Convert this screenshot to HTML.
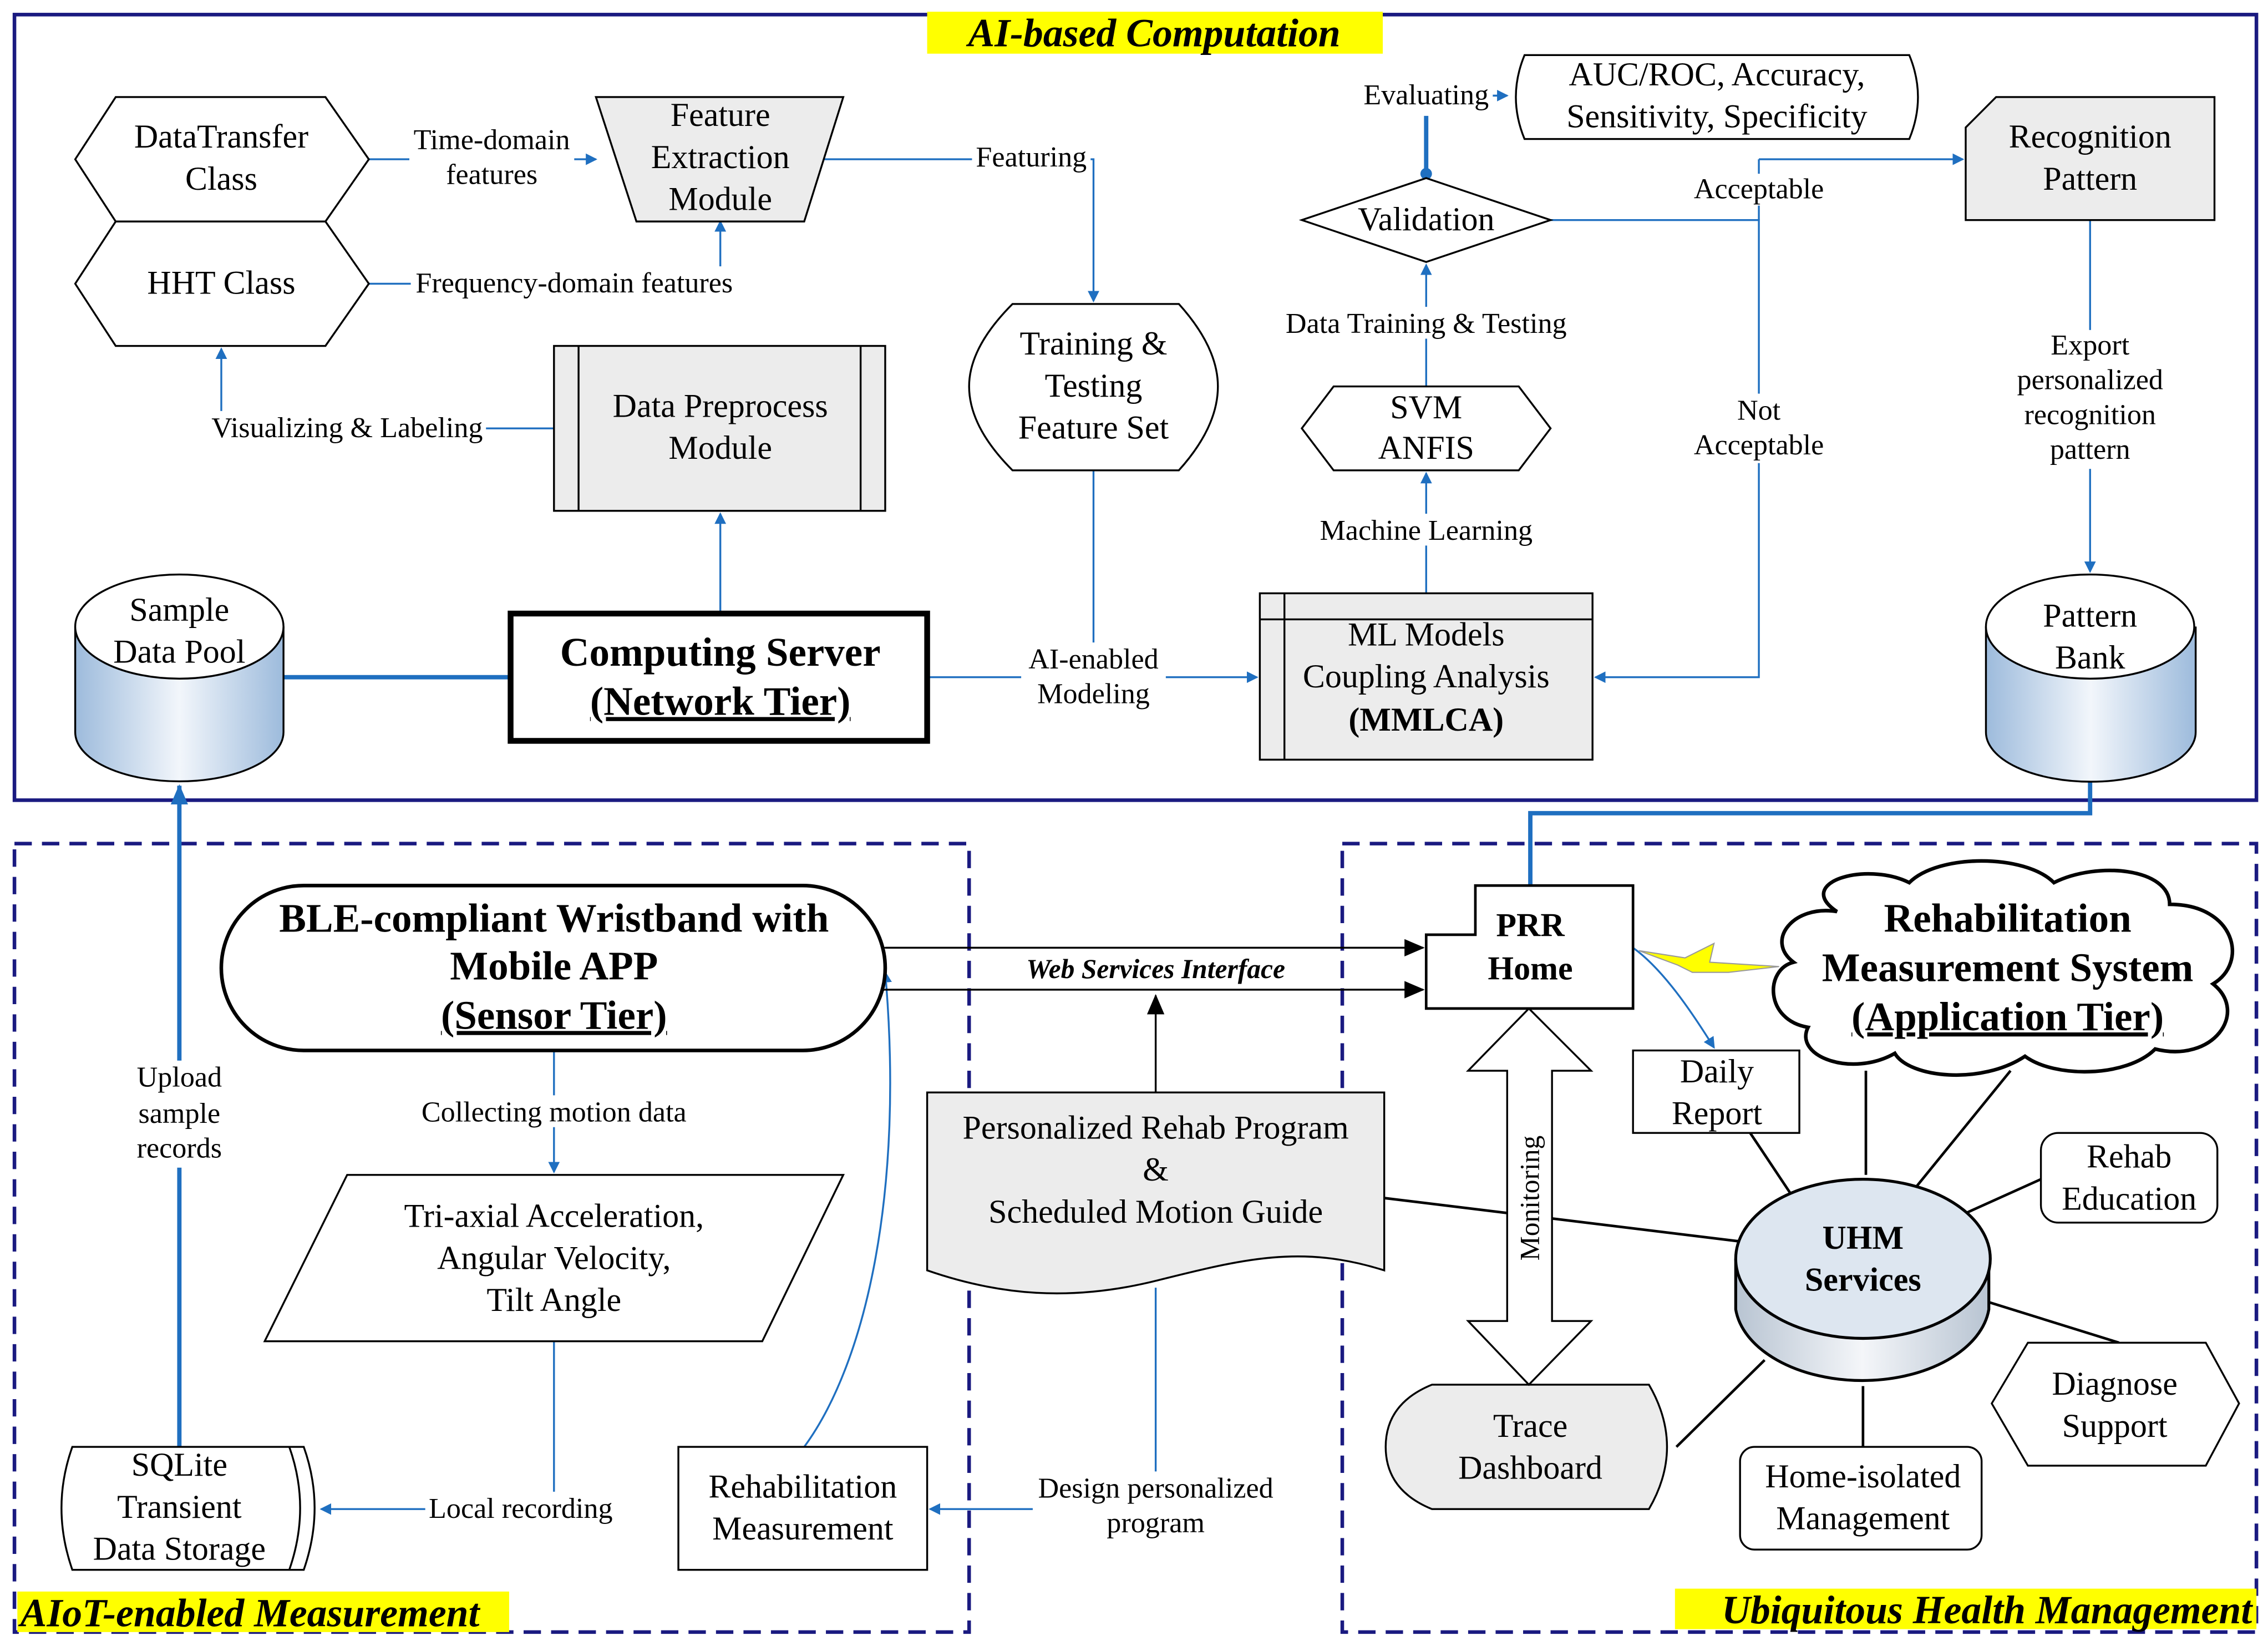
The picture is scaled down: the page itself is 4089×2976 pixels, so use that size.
<!DOCTYPE html>
<html><head><meta charset="utf-8"><style>html,body{margin:0;padding:0;background:#fff}svg{display:block}</style></head><body>
<svg xmlns="http://www.w3.org/2000/svg" width="4089" height="2976" viewBox="0 0 1568 1141" font-family="Liberation Serif, serif">
<defs>
<marker id="a" markerWidth="8" markerHeight="8" refX="7" refY="4" orient="auto" markerUnits="userSpaceOnUse"><path d="M0,0 L8,4 L0,8 Z" fill="#1f6fc0"/></marker>
<marker id="k" markerWidth="14" markerHeight="12" refX="13" refY="6" orient="auto" markerUnits="userSpaceOnUse"><path d="M0,0 L14,6 L0,12 Z" fill="#000"/></marker>
<marker id="kb" markerWidth="14" markerHeight="12" refX="13" refY="6" orient="auto" markerUnits="userSpaceOnUse"><path d="M0,0 L14,6 L0,12 Z" fill="#1f6fc0"/></marker>
<linearGradient id="cyl" x1="0" x2="1"><stop offset="0" stop-color="#9dbbdc"/><stop offset="0.5" stop-color="#f2f6fb"/><stop offset="1" stop-color="#9dbbdc"/></linearGradient>
<linearGradient id="cyl2" x1="0" x2="1"><stop offset="0" stop-color="#b8c4d2"/><stop offset="0.5" stop-color="#f4f6f9"/><stop offset="1" stop-color="#b8c4d2"/></linearGradient>
</defs>
<g font-size="23" text-anchor="middle" fill="#000">
<!-- frames -->
<rect x="10" y="10" width="1550" height="543" fill="none" stroke="#1a1a80" stroke-width="2.5"/>
<rect x="10" y="583" width="660" height="545" fill="none" stroke="#1a1a80" stroke-width="2.5" stroke-dasharray="12,7"/>
<rect x="928" y="583" width="632" height="545" fill="none" stroke="#1a1a80" stroke-width="2.5" stroke-dasharray="12,7"/>
<rect x="641" y="8" width="315" height="29" fill="#ffff00"/>
<text x="798" y="32" font-size="27.5" font-weight="bold" font-style="italic">AI-based Computation</text>
<rect x="12" y="1100" width="340" height="28" fill="#ffff00"/>
<text x="14" y="1124" font-size="27.5" font-weight="bold" font-style="italic" text-anchor="start">AIoT-enabled Measurement</text>
<rect x="1158" y="1098" width="402" height="28" fill="#ffff00"/>
<text x="1557" y="1122" font-size="27.5" font-weight="bold" font-style="italic" text-anchor="end">Ubiquitous Health Management</text>

<!-- blue connectors -->
<g stroke="#1f6fc0" stroke-width="1.3" fill="none">
<path d="M255,110 H412" marker-end="url(#a)"/>
<path d="M255,196 H498 V153" marker-end="url(#a)"/>
<path d="M570,110 H756 V208" marker-end="url(#a)"/>
<path d="M383,296 H153 V241" marker-end="url(#a)"/>
<path d="M498,424 V355" marker-end="url(#a)"/>
<path d="M641,468 H869" marker-end="url(#a)"/>
<path d="M756,325 V468"/>
<path d="M986,410 V327" marker-end="url(#a)"/>
<path d="M986,267 V183" marker-end="url(#a)"/>
<path d="M1072,152 H1216 V468 H1103" marker-end="url(#a)"/>
<path d="M1216,110 H1357" marker-end="url(#a)"/>
<path d="M1216,152 V110"/>
<path d="M1445,152 V395" marker-end="url(#a)"/>
<path d="M383,726 V810" marker-end="url(#a)"/>
<path d="M383,927 V1043 H222" marker-end="url(#a)"/>
<path d="M799,890 V1043 H643" marker-end="url(#a)"/>
<path d="M556,1000 C600,940 625,820 612,672" marker-end="url(#a)"/>
<path d="M1129,655 C1150,670 1170,700 1185,724" marker-end="url(#a)"/>
<path d="M1032,66 H1042" marker-end="url(#a)"/>
</g>
<g stroke="#1f6fc0" stroke-width="3" fill="none">
<path d="M196,468 H353"/>
<path d="M124,1000 V543" marker-end="url(#kb)"/>
<path d="M1445,470 V562 H1058 V612"/>
<path d="M986,123 V80"/>
</g>
<circle cx="986" cy="120" r="4" fill="#1f6fc0"/>
<!-- label backgrounds -->
<g fill="#fff">
<rect x="283" y="85" width="114" height="48"/><rect x="284" y="184" width="226" height="22"/>
<rect x="672" y="98" width="82" height="22"/><rect x="142" y="284" width="194" height="22"/>
<rect x="706" y="444" width="100" height="48"/><rect x="884" y="212" width="204" height="22"/>
<rect x="908" y="355" width="156" height="22"/><rect x="1168" y="120" width="96" height="22"/>
<rect x="1168" y="272" width="96" height="48"/><rect x="1395" y="228" width="100" height="96"/>
<rect x="940" y="55" width="92" height="22"/>
<rect x="286" y="757" width="194" height="22"/><rect x="86" y="733" width="76" height="74"/>
<rect x="294" y="1031" width="132" height="22"/><rect x="714" y="1017" width="170" height="48"/>
</g>
<g font-size="20">
<text x="340" y="103">Time-domain</text><text x="340" y="127">features</text>
<text x="397" y="202">Frequency-domain features</text>
<text x="713" y="115">Featuring</text>
<text x="240" y="302">Visualizing &amp; Labeling</text>
<text x="756" y="462">AI-enabled</text><text x="756" y="486">Modeling</text>
<text x="986" y="230">Data Training &amp; Testing</text>
<text x="986" y="373">Machine Learning</text>
<text x="1216" y="137">Acceptable</text>
<text x="1216" y="290">Not</text><text x="1216" y="314">Acceptable</text>
<text x="1445" y="245">Export</text><text x="1445" y="269">personalized</text><text x="1445" y="293">recognition</text><text x="1445" y="317">pattern</text>
<text x="986" y="72">Evaluating</text>
<text x="383" y="775">Collecting motion data</text>
<text x="124" y="751">Upload</text><text x="124" y="776">sample</text><text x="124" y="800">records</text>
<text x="360" y="1049">Local recording</text>
<text x="799" y="1035">Design personalized</text><text x="799" y="1059">program</text>
</g>

<!-- shapes top -->
<g stroke="#000" stroke-width="1.3">
<polygon points="52,110 80,67 225,67 255,110 225,153 80,153" fill="#fff"/>
<polygon points="52,196 80,153 225,153 255,196 225,239 80,239" fill="#fff"/>
<polygon points="412,67 583,67 556,153 440,153" fill="#ececec"/>
<rect x="383" y="239" width="229" height="114" fill="#ececec"/>
<line x1="400" y1="239" x2="400" y2="353"/><line x1="595" y1="239" x2="595" y2="353"/>
<path d="M700,210 H815 Q842,240 842,267 Q842,295 815,325 H700 Q670,295 670,267 Q670,240 700,210 Z" fill="#fff"/>
<polygon points="900,152 986,123 1072,152 986,181" fill="#fff"/>
<path d="M1054,38 H1320 Q1332,67 1320,96 H1054 Q1042,67 1054,38 Z" fill="#fff"/>
<path d="M1380,67 H1531 V152 H1359 V88 Z" fill="#ececec"/>
<polygon points="900,296 922,267 1050,267 1072,296 1050,325 922,325" fill="#fff"/>
<rect x="871" y="410" width="230" height="115" fill="#ececec"/>
<line x1="888" y1="410" x2="888" y2="525"/><line x1="871" y1="428" x2="1101" y2="428"/>
<rect x="353" y="424" width="288" height="88" fill="#fff" stroke-width="4"/>
<path d="M52,433 V506 A72,34 0 0 0 196,506 V433" fill="url(#cyl)"/>
<ellipse cx="124" cy="433" rx="72" ry="36" fill="#fff"/>
<path d="M1373,433 V506 A72,34 0 0 0 1518,506 V433" fill="url(#cyl)"/>
<ellipse cx="1445" cy="433" rx="72" ry="36" fill="#fff"/>
</g>
<text x="153" y="102">DataTransfer</text><text x="153" y="131">Class</text>
<text x="153" y="203">HHT Class</text>
<text x="498" y="87">Feature</text><text x="498" y="116">Extraction</text><text x="498" y="145">Module</text>
<text x="498" y="288">Data Preprocess</text><text x="498" y="317">Module</text>
<text x="756" y="245">Training &amp;</text><text x="756" y="274">Testing</text><text x="756" y="303">Feature Set</text>
<text x="986" y="159">Validation</text>
<text x="1187" y="59">AUC/ROC, Accuracy,</text><text x="1187" y="88">Sensitivity, Specificity</text>
<text x="1445" y="102">Recognition</text><text x="1445" y="131">Pattern</text>
<text x="986" y="289">SVM</text><text x="986" y="317">ANFIS</text>
<text x="986" y="446">ML Models</text><text x="986" y="475">Coupling Analysis</text><text x="986" y="505" font-weight="bold">(MMLCA)</text>
<text x="498" y="460" font-size="28" font-weight="bold">Computing Server</text>
<text x="498" y="494" font-size="28" font-weight="bold" text-decoration="underline">(Network Tier)</text>
<text x="124" y="429">Sample</text><text x="124" y="458">Data Pool</text>
<text x="1445" y="433">Pattern</text><text x="1445" y="462">Bank</text>

<!-- bottom black lines -->
<g stroke="#000" stroke-width="1.8" fill="none">
<line x1="957" y1="828" x2="1203" y2="858"/>
<line x1="1210" y1="783" x2="1240" y2="828"/>
<line x1="1290" y1="740" x2="1290" y2="812"/>
<line x1="1390" y1="740" x2="1325" y2="820"/>
<line x1="1411" y1="815" x2="1360" y2="838"/>
<line x1="1375" y1="900" x2="1465" y2="928"/>
<line x1="1288" y1="958" x2="1288" y2="1000"/>
<line x1="1220" y1="940" x2="1159" y2="1000"/>
</g>
<g stroke="#000" stroke-width="1.3" fill="none">
<line x1="612" y1="655" x2="984" y2="655" marker-start="url(#k)" marker-end="url(#k)"/>
<line x1="612" y1="684" x2="984" y2="684" marker-start="url(#k)" marker-end="url(#k)"/>
<line x1="799" y1="755" x2="799" y2="688" marker-end="url(#k)"/>
</g>
<text x="799" y="676" font-size="19" font-weight="bold" font-style="italic">Web Services Interface</text>
<polygon points="1133,657 1165,662 1185,652 1182,665 1230,668 1195,672 1170,672 1160,667" fill="#ffff00" stroke="#999" stroke-width="0.8"/>

<g stroke="#000" stroke-width="1.3">
<rect x="153" y="612" width="459" height="114" rx="57" fill="#fff" stroke-width="2.5"/>
<path d="M1020,612 H1129 V697 H986 V646 H1020 Z" fill="#fff" stroke-width="1.8"/>
<path d="M1270,630 C1240,610 1290,595 1320,610 C1340,590 1400,590 1420,610 C1450,595 1500,600 1500,625 C1545,625 1555,665 1530,680 C1555,700 1530,735 1490,725 C1470,745 1420,745 1400,730 C1370,750 1320,745 1310,728 C1280,745 1240,730 1250,710 C1220,705 1220,670 1240,665 C1220,650 1240,625 1270,630 Z" fill="#fff" stroke-width="2.5"/>
<rect x="1129" y="726" width="115" height="57" fill="#fff"/>
<rect x="1411" y="783" width="122" height="62" rx="12" fill="#fff"/>
<path d="M1200,870 V905 A88,55 0 0 0 1375,905 V870" fill="url(#cyl2)" stroke-width="2"/>
<ellipse cx="1288" cy="870" rx="88" ry="55" fill="#dde6f0" stroke-width="2"/>
<polygon points="1377,970 1402,928 1525,928 1548,970 1525,1013 1402,1013" fill="#fff"/>
<rect x="1203" y="1000" width="167" height="71" rx="10" fill="#fff"/>
<path d="M990,957 H1140 Q1165,1000 1140,1043 H990 Q958,1030 958,1000 Q958,970 990,957 Z" fill="#ececec"/>
<polygon points="1057,697 1100,740 1073,740 1073,913 1100,913 1057,957 1015,913 1042,913 1042,740 1015,740" fill="#fff"/>
<path d="M641,755 H957 V878 C900,860 860,870 800,885 C740,900 690,895 641,878 Z" fill="#ececec"/>
<polygon points="240,812 583,812 527,927 183,927" fill="#fff"/>
<path d="M50,1000 H210 Q225,1042 210,1085 H50 Q35,1042 50,1000 Z" fill="#fff"/>
<path d="M200,1000 Q215,1042 200,1085" fill="none"/>
<rect x="469" y="1000" width="172" height="85" fill="#fff"/>
</g>
<text x="383" y="644" font-size="28" font-weight="bold">BLE-compliant Wristband with</text>
<text x="383" y="677" font-size="28" font-weight="bold">Mobile APP</text>
<text x="383" y="711" font-size="28" font-weight="bold" text-decoration="underline">(Sensor Tier)</text>
<text x="1058" y="647" font-weight="bold">PRR</text><text x="1058" y="677" font-weight="bold">Home</text>
<text x="1388" y="644" font-size="28" font-weight="bold">Rehabilitation</text>
<text x="1388" y="678" font-size="28" font-weight="bold">Measurement System</text>
<text x="1388" y="712" font-size="28" font-weight="bold" text-decoration="underline">(Application Tier)</text>
<text x="1187" y="748">Daily</text><text x="1187" y="777">Report</text>
<text x="1472" y="807">Rehab</text><text x="1472" y="836">Education</text>
<text x="1288" y="863" font-weight="bold">UHM</text><text x="1288" y="892" font-weight="bold">Services</text>
<text x="1462" y="964">Diagnose</text><text x="1462" y="993">Support</text>
<text x="1288" y="1028">Home-isolated</text><text x="1288" y="1057">Management</text>
<text x="1058" y="993">Trace</text><text x="1058" y="1022">Dashboard</text>
<text x="0" y="0" font-size="19" transform="translate(1064,828) rotate(-90)">Monitoring</text>
<text x="799" y="787">Personalized Rehab Program</text><text x="799" y="816">&amp;</text><text x="799" y="845">Scheduled Motion Guide</text>
<text x="383" y="848">Tri-axial Acceleration,</text><text x="383" y="877">Angular Velocity,</text><text x="383" y="906">Tilt Angle</text>
<text x="124" y="1020">SQLite</text><text x="124" y="1049">Transient</text><text x="124" y="1078">Data Storage</text>
<text x="555" y="1035">Rehabilitation</text><text x="555" y="1064">Measurement</text>
</g>
</svg>
</body></html>
